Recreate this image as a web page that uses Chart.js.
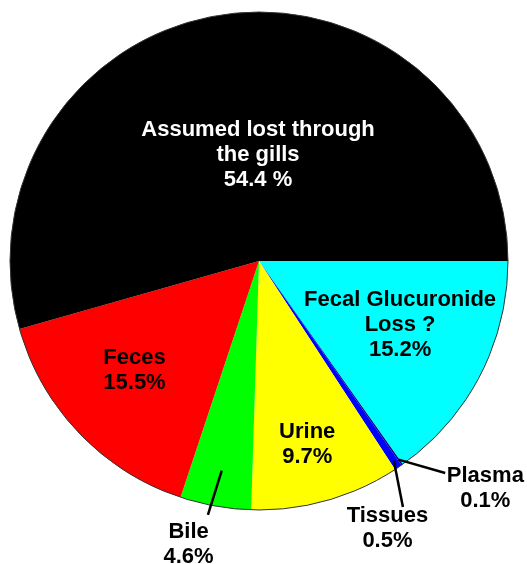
<!DOCTYPE html>
<html>
<head>
<meta charset="utf-8">
<script src="https://cdn.jsdelivr.net/npm/chart.js@4.4.1/dist/chart.umd.min.js"></script>
<style>
    html, body { margin: 0; padding: 0; background: #fff; }
    #wrap { width: 527px; height: 564px; }
</style>
</head>
<body>
<div id="wrap"><canvas id="lossPie" width="527" height="564"></canvas></div>
<script>
// slices run clockwise from 3 o'clock
const sliceNames = [
    ['Fecal Glucuronide', 'Loss ?'],
    ['Plasma'],
    ['Tissues'],
    ['Urine'],
    ['Bile'],
    ['Feces'],
    ['Assumed lost through', 'the gills']
];
const sliceValues = [15.2, 0.1, 0.5, 9.7, 4.6, 15.5, 54.4];
const valueSuffix = ['%', '%', '%', '%', '%', '%', ' %'];
const sliceColors = ['#00ffff', '#000080', '#0000ff', '#ffff00', '#00ff00', '#ff0000', '#000000'];

// label placement: r = fraction of radius, da = degrees off the slice middle
const labelSpots = [
    { r: 0.622, da: -3.0, color: '#000' },
    { r: 1.29, da: -9.7, color: '#000', lead: [0.975, 0, 1.133, -6.2] },
    { r: 1.193, da: 8.4, color: '#000', lead: [0.968, 0, 1.145, 3.7] },
    { r: 0.76, da: 0.9, color: '#000' },
    { r: 1.171, da: 3.9, color: '#000', lead: [0.855, 0, 1.04, 1.3] },
    { r: 0.665, da: 2.5, color: '#000' },
    { r: 0.426, da: 7.4, color: '#fff' }
];

const FONT = 'bold 22px "Liberation Sans", Arial, sans-serif';
const LINE_H = 25;

const sliceLabels = {
    id: 'sliceLabels',
    afterDatasetsDraw(chart) {
        const ctx = chart.ctx;
        const arcs = chart.getDatasetMeta(0).data;
        ctx.save();

        // thin outline round the pie
        const a0 = arcs[0];
        ctx.beginPath();
        ctx.arc(a0.x, a0.y, a0.outerRadius, 0, Math.PI * 2);
        ctx.strokeStyle = '#333';
        ctx.lineWidth = 1;
        ctx.stroke();

        ctx.font = FONT;
        ctx.textAlign = 'center';
        ctx.textBaseline = 'middle';
        arcs.forEach((arc, i) => {
            const spot = labelSpots[i];
            const mid = (arc.startAngle + arc.endAngle) / 2;
            const R = arc.outerRadius;
            const rad = d => d * Math.PI / 180;

            if (spot.lead) {
                const [r1, d1, r2, d2] = spot.lead;
                ctx.beginPath();
                ctx.moveTo(arc.x + Math.cos(mid + rad(d1)) * r1 * R, arc.y + Math.sin(mid + rad(d1)) * r1 * R);
                ctx.lineTo(arc.x + Math.cos(mid + rad(d2)) * r2 * R, arc.y + Math.sin(mid + rad(d2)) * r2 * R);
                ctx.strokeStyle = '#000';
                ctx.lineWidth = 2.5;
                ctx.stroke();
            }

            const lines = sliceNames[i].concat([sliceValues[i].toFixed(1) + valueSuffix[i]]);
            const cx = arc.x + Math.cos(mid + rad(spot.da)) * spot.r * R;
            const cy = arc.y + Math.sin(mid + rad(spot.da)) * spot.r * R;
            const top = cy - (lines.length - 1) * LINE_H / 2;
            ctx.fillStyle = spot.color;
            lines.forEach((t, k) => ctx.fillText(t, cx, top + k * LINE_H));
        });
        ctx.restore();
    }
};

new Chart(document.getElementById('lossPie').getContext('2d'), {
    type: 'pie',
    data: {
        labels: sliceNames.map(n => n.join(' ')),
        datasets: [{
            data: sliceValues,
            backgroundColor: sliceColors,
            borderWidth: 0
        }]
    },
    options: {
        responsive: false,
        animation: false,
        rotation: 90,
        layout: { padding: { left: 10, right: 19, top: 12, bottom: 54 } },
        plugins: {
            legend: { display: false },
            tooltip: { enabled: false }
        }
    },
    plugins: [sliceLabels]
});
</script>
</body>
</html>
